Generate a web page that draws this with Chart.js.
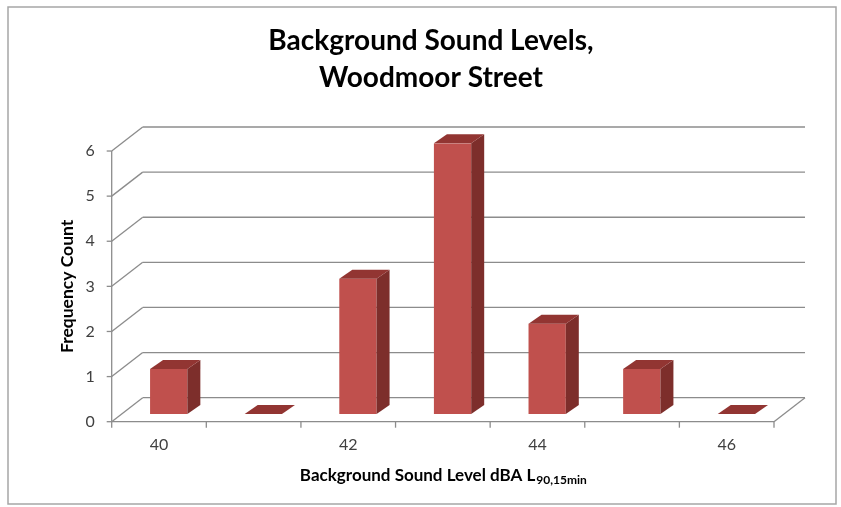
<!DOCTYPE html>
<html>
<head>
<meta charset="utf-8">
<title>Background Sound Levels, Woodmoor Street</title>
<script src="https://cdn.jsdelivr.net/npm/chart.js@4.4.1/dist/chart.umd.min.js"></script>
<style>
  html, body { margin: 0; padding: 0; background: #fff; }
  #wrap { width: 841px; height: 507px; }
</style>
</head>
<body>
<div id="wrap"><canvas id="soundChart" width="841" height="507"></canvas></div>
<script>
// sound level bins (dBA) and how many 15 min samples fell in each
var levels = ["40", "41", "42", "43", "44", "45", "46"];
var counts = [1, 0, 3, 6, 2, 1, 0];
var yMin = 0, yMax = 6, yStep = 1;

var chartTitle = ["Background Sound Levels,", "Woodmoor Street"];
var yTitle = "Frequency Count";
var xTitleMain = "Background Sound Level dBA L";
var xTitleSub = "90,15min";

// fake 3d look: back wall offset, bar offset into the floor, bar depth
var wall = { dx: 31, dy: -24 };
var barShift = { dx: 9.7, dy: -7.7 };
var barDepth = { dx: 13, dy: -9 };

var gridColor = "#8c8c8c";
var frontColor = "#c0504d";
var sideColor = "#7d2e2b";
var topColor = "#923532";
var fontFamily = "Lato, 'Open Sans', sans-serif";

function line(ctx, x1, y1, x2, y2) {
  ctx.beginPath();
  ctx.moveTo(x1, y1);
  ctx.lineTo(x2, y2);
  ctx.stroke();
}

function poly(ctx, pts, color) {
  ctx.beginPath();
  ctx.moveTo(pts[0][0], pts[0][1]);
  for (var i = 1; i < pts.length; i++) ctx.lineTo(pts[i][0], pts[i][1]);
  ctx.closePath();
  ctx.fillStyle = color;
  ctx.fill();
}

var frame3d = {
  id: "frame3d",
  beforeDraw: function (chart) {
    var ctx = chart.ctx;
    ctx.save();
    ctx.fillStyle = "#fff";
    ctx.fillRect(0, 0, chart.width, chart.height);
    ctx.strokeStyle = "#a6a6a6";
    ctx.lineWidth = 1.5;
    ctx.strokeRect(8, 7, 828, 497);
    ctx.restore();
  },
  beforeDatasetsDraw: function (chart) {
    var ctx = chart.ctx;
    var a = chart.chartArea;
    var y = chart.scales.y;
    ctx.save();
    ctx.strokeStyle = gridColor;
    ctx.lineWidth = 1.3;

    // back wall gridlines + slanted lines on the left wall
    for (var v = yMin; v <= yMax; v += yStep) {
      var py = y.getPixelForValue(v);
      line(ctx, a.left, py, a.left + wall.dx, py + wall.dy);
      line(ctx, a.left + wall.dx, py + wall.dy, a.right + wall.dx, py + wall.dy);
      line(ctx, a.left - 5, py, a.left, py);
    }

    // front axis and floor edges
    line(ctx, a.left, y.getPixelForValue(yMax), a.left, a.bottom);
    line(ctx, a.left, a.bottom, a.right, a.bottom);
    line(ctx, a.right, a.bottom, a.right + wall.dx, a.bottom + wall.dy);

    // tick marks between categories
    var n = levels.length;
    var w = (a.right - a.left) / n;
    for (var i = 0; i <= n; i++) {
      var px = a.left + i * w;
      line(ctx, px, a.bottom, px, a.bottom + 6);
    }
    ctx.restore();

    // bars are drawn a little way back from the front edge
    ctx.save();
    ctx.translate(barShift.dx, barShift.dy);
  },
  afterDatasetsDraw: function (chart) {
    var ctx = chart.ctx;
    var bars = chart.getDatasetMeta(0).data;
    bars.forEach(function (bar) {
      var p = bar.getProps(["x", "y", "base", "width"], true);
      var l = p.x - p.width / 2, r = p.x + p.width / 2;
      var t = p.y, b = p.base;
      // right side face
      if (b - t > 0.5) {
        poly(ctx, [[r, t], [r + barDepth.dx, t + barDepth.dy],
                   [r + barDepth.dx, b + barDepth.dy], [r, b]], sideColor);
      }
      // top face
      poly(ctx, [[l, t], [r, t], [r + barDepth.dx, t + barDepth.dy],
                 [l + barDepth.dx, t + barDepth.dy]], topColor);
    });
    ctx.restore();
  },
  afterDraw: function (chart) {
    // x axis title with the subscript
    var ctx = chart.ctx;
    var a = chart.chartArea;
    ctx.save();
    ctx.fillStyle = "#000";
    ctx.textBaseline = "alphabetic";
    var mainFont = "bold 17px " + fontFamily;
    var subFont = "bold 12px " + fontFamily;
    ctx.font = mainFont;
    var w1 = ctx.measureText(xTitleMain).width;
    ctx.font = subFont;
    var w2 = ctx.measureText(xTitleSub).width;
    var x0 = (a.left + a.right) / 2 - (w1 + w2) / 2;
    var base = 481;
    ctx.font = mainFont;
    ctx.textAlign = "left";
    ctx.fillText(xTitleMain, x0, base);
    ctx.font = subFont;
    ctx.fillText(xTitleSub, x0 + w1 + 1, base + 3);
    ctx.restore();
  }
};

var ctx = document.getElementById("soundChart").getContext("2d");

var myChart = new Chart(ctx, {
  type: "bar",
  data: {
    labels: levels,
    datasets: [
      {
        label: "Frequency Count",
        data: counts,
        backgroundColor: frontColor,
        borderWidth: 0,
        categoryPercentage: 1,
        barPercentage: 0.394
      }
    ]
  },
  options: {
    responsive: false,
    animation: false,
    events: [],
    layout: { padding: { left: 21, right: 0, top: 0, bottom: 0 } },
    plugins: {
      legend: { display: false },
      tooltip: { enabled: false },
      title: {
        display: true,
        text: chartTitle,
        color: "#000",
        font: { family: fontFamily, size: 28, weight: "bold", lineHeight: 1.336 },
        padding: { top: 22.3, bottom: 53.9 }
      }
    },
    scales: {
      x: {
        grid: { display: false, drawTicks: false },
        border: { display: false },
        ticks: {
          autoSkip: false,
          maxRotation: 0,
          padding: 14,
          color: "#404040",
          font: { family: fontFamily, size: 16 },
          callback: function (val, i) {
            return i % 2 === 0 ? levels[i] : "";
          }
        },
        afterFit: function (s) { s.height = 85.3; }
      },
      y: {
        min: yMin,
        max: yMax,
        grid: { display: false, drawTicks: false },
        border: { display: false },
        ticks: {
          stepSize: yStep,
          padding: 17,
          color: "#404040",
          font: { family: fontFamily, size: 16 }
        },
        title: {
          display: true,
          text: yTitle,
          color: "#000",
          font: { family: fontFamily, size: 17.5, weight: "bold", lineHeight: 1.2 },
          padding: { top: 35.5, bottom: 0 }
        },
        afterFit: function (s) { s.width = 90.7; }
      },
      // empty strip on the right, room for the back wall
      yRight: {
        position: "right",
        display: true,
        grid: { display: false, drawTicks: false },
        border: { display: false },
        ticks: { display: false },
        afterFit: function (s) { s.width = 67; }
      }
    }
  },
  plugins: [frame3d]
});
</script>
</body>
</html>
